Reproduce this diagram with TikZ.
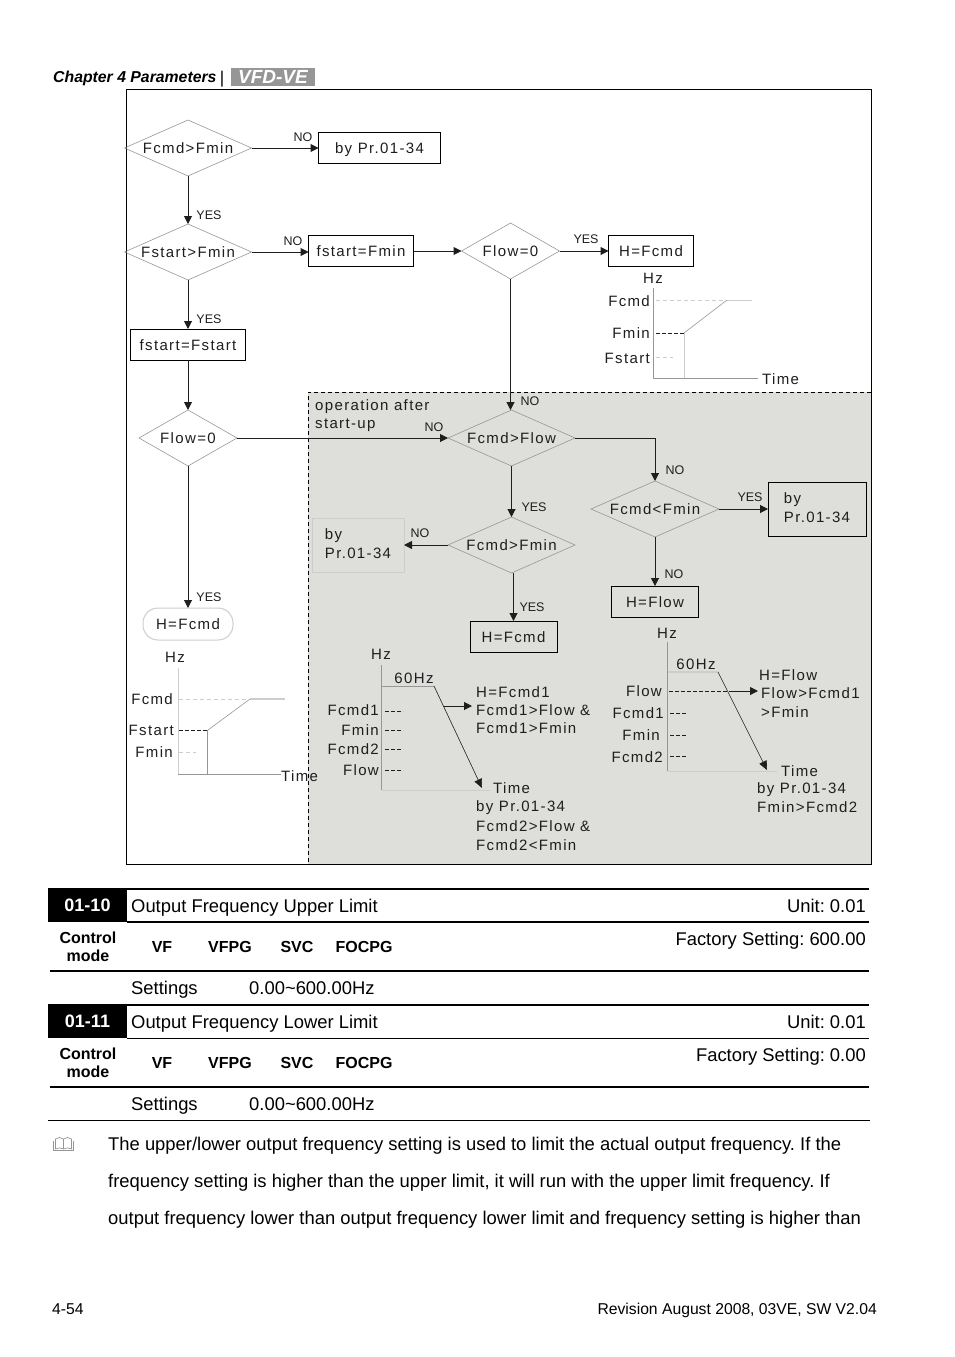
\documentclass[tikz,border=0pt]{standalone}
\usepackage{fontspec}
\usepackage{xcolor}
\setmainfont{Liberation Sans}
\newfontfamily\chartfont[LetterSpace=9]{Liberation Sans}
\usetikzlibrary{shapes.geometric, arrows.meta, positioning}
\definecolor{chartshade}{RGB}{222,223,219}
\definecolor{chartline}{RGB}{150,150,150}
\definecolor{chartpale}{RGB}{205,205,205}
\definecolor{chartink}{RGB}{30,30,30}
\definecolor{logogray}{RGB}{150,150,150}
\tikzset{
  decision/.style={
    diamond, draw=chartline, line width=0.6pt, inner sep=0pt, outer sep=0pt, aspect=2.27,
    minimum width=127pt, minimum height=56pt, text=chartink, text height=11pt, text depth=0pt,
    font=\chartfont\fontsize{15}{18}\selectfont
  },
  process/.style={
    rectangle, draw=black, line width=1pt, inner sep=0pt, outer sep=0pt, minimum height=31pt,
    text=chartink, align=left, text height=11pt, text depth=0pt,
    font=\chartfont\fontsize{15}{18.5}\selectfont
  },
  paleproc/.style={process, draw=chartpale},
  twoline/.style={text height=26pt, minimum height=54pt},
  arrow/.style={-{Stealth[length=8pt, width=8pt, inset=0pt]}, line width=1pt, color=chartink},
  tag/.style={font=\fontsize{12.5}{15}\selectfont, text=chartink, inner sep=0pt, anchor=mid, yshift=-1pt},
  lab/.style={font=\chartfont\fontsize{15}{18}\selectfont, text=chartink, inner sep=0pt, align=left},
  labm/.style={lab, yshift=-3pt},
  axisline/.style={line width=0.8pt, color=chartline},
  paledash/.style={line width=0.8pt, color=chartpale, dash pattern=on 4pt off 3pt},
  inkdash/.style={line width=0.8pt, color=chartink, dash pattern=on 4pt off 2pt},
  frameline/.style={line width=1pt, color=black},
  hairdash/.style={line width=0.9pt, color=black, dash pattern=on 4pt off 3pt},
  rulethick/.style={line width=1.8pt, color=black},
  rulethin/.style={line width=1pt, color=black},
  body/.style={font=\fontsize{18.4}{22}\selectfont, inner sep=0pt, text=black, yshift=-3.8pt},
  codebox/.style={
    rectangle, fill=black, text=white, minimum width=79pt, minimum height=33pt,
    inner sep=0pt, font=\bfseries\fontsize{18}{20}\selectfont
  },
  modetag/.style={font=\bfseries\fontsize{16}{18}\selectfont, inner sep=0pt, align=center, anchor=mid, yshift=-2.8pt}
}
\begin{document}
\frenchspacing
\begin{tikzpicture}[x=1pt, y=-1pt]
  \useasboundingbox (0,0) rectangle (954,1357);

  % page header
  \node[font=\bfseries\itshape\fontsize{15.8}{18}\selectfont, inner sep=0pt, anchor=mid west, yshift=-2pt] (chaptitle) at (53,78) {Chapter 4 Parameters};
  \node[font=\fontsize{17}{18}\selectfont, inner sep=0pt, anchor=mid, yshift=-3pt] (chapbar) at (222,78) {|};
  \node[rectangle, fill=logogray, text=white, minimum width=84pt, minimum height=18pt, inner sep=0pt,
    font=\bfseries\itshape\fontsize{19}{18}\selectfont] (chaplogo) at (273,77) {VFD-VE};

  % frame and shaded part
  \fill[chartshade] (308,392) rectangle (871,864);
  \draw[frameline] (126,89) rectangle (871,864);
  \coordinate (shadetl) at (308,392);
  \draw[hairdash] (871,392) -- (shadetl) -- (308,864);

  % flow nodes
  \node[decision] (fcmdmin) at (188,148) {Fcmd>Fmin};
  \node[process, minimum width=122pt, right=67pt of fcmdmin] (bypra) {by Pr.01-34};
  \node[decision, below=48pt of fcmdmin] (fstartmin) {Fstart>Fmin};
  \node[process, minimum width=105pt, right=57pt of fstartmin, yshift=1pt] (fstartfmin) {fstart=Fmin};
  \node[decision, minimum width=98pt, right=48pt of fstartfmin] (flowa) {Flow=0};
  \node[process, minimum width=85pt, right=49pt of flowa] (hcmda) {H=Fcmd};
  \node[process, minimum width=115pt, below=49pt of fstartmin] (fstartset) {fstart=Fstart};
  \node[decision, minimum width=98pt, below=50pt of fstartset] (flowb) {Flow=0};
  \node[paleproc, rounded corners=15pt, minimum width=90pt, minimum height=32pt, below=142pt of flowb] (hcmdb) {H=Fcmd};
  \node[decision, below=131pt of flowa, xshift=1pt] (fcmdflow) {Fcmd>Flow};
  \node[decision, below=51pt of fcmdflow] (fcmdminb) {Fcmd>Fmin};
  \node[paleproc, twoline, minimum width=92pt, left=44pt of fcmdminb] (byprb) {by\\Pr.01-34};
  \node[process, minimum width=87pt, below=48pt of fcmdminb, xshift=2pt] (hcmdc) {H=Fcmd};
  \node[decision, minimum width=128pt] (fcmdless) at (655,509) {Fcmd<Fmin};
  \node[process, twoline, minimum width=98pt, right=49pt of fcmdless] (byprc) {by\\Pr.01-34};
  \node[process, minimum width=87pt, below=49pt of fcmdless] (hflow) {H=Flow};

  \node[lab, anchor=west] (oplabel) at (315,416) {operation after\\start-up};

  % flow connectors
  \draw[arrow] (fcmdmin) -- (bypra);
  \draw[arrow] (fcmdmin) -- (fstartmin);
  \draw[arrow] (fstartmin.east) -- (fstartmin.east -| fstartfmin.west);
  \draw[arrow] (fstartfmin) -- (flowa);
  \draw[arrow] (flowa) -- (hcmda);
  \draw[arrow] (fstartmin) -- (fstartset);
  \draw[arrow] (fstartset) -- (flowb);
  \draw[arrow] (flowb) -- (fcmdflow);
  \draw[arrow] (flowb) -- (hcmdb);
  \draw[arrow] (flowa.south) -- (flowa.south |- fcmdflow.north);
  \draw[arrow] (fcmdflow) -- (fcmdminb);
  \draw[arrow] (fcmdminb) -- (byprb);
  \draw[arrow] (fcmdminb.south -| hcmdc.north) -- (hcmdc.north);
  \draw[arrow] (fcmdflow.east) -| (fcmdless.north);
  \draw[arrow] (fcmdless) -- (byprc);
  \draw[arrow] (fcmdless) -- (hflow);

  \node[tag] (noa) at (303,138) {NO};
  \node[tag] (yesa) at (209,216) {YES};
  \node[tag] (nob) at (293,242) {NO};
  \node[tag] (yesb) at (586,240) {YES};
  \node[tag] (yesc) at (209,320) {YES};
  \node[tag] (noc) at (530,402) {NO};
  \node[tag] (nod) at (434,428) {NO};
  \node[tag] (noe) at (675,471) {NO};
  \node[tag] (yesd) at (750,498) {YES};
  \node[tag] (yese) at (534,508) {YES};
  \node[tag] (nof) at (420,534) {NO};
  \node[tag] (nog) at (674,575) {NO};
  \node[tag] (yesf) at (209,598) {YES};
  \node[tag] (yesg) at (532,608) {YES};

  % upper right curve
  \node[labm, anchor=mid] (hza) at (653,278) {Hz};
  \node[labm, anchor=mid east] (fcmdla) at (650,301) {Fcmd};
  \node[labm, anchor=mid east] (fminla) at (650,333) {Fmin};
  \node[labm, anchor=mid east] (fstartla) at (650,358) {Fstart};
  \node[labm, anchor=mid west] (timea) at (762,379) {Time};
  \draw[axisline] (653,288) -- (653,378) -- (758,378);
  \draw[paledash] (656,300) -- (727,300);
  \draw[line width=0.8pt, chartpale] (727,300) -- (752,300);
  \draw[inkdash] (656,333) -- (684,333);
  \draw[line width=0.6pt, chartline] (684,333) -- (727,300);
  \draw[line width=0.8pt, chartpale] (684,333) -- (684,378);
  \draw[paledash] (656,357) -- (673,357);

  % left curve
  \node[labm, anchor=mid] (hzb) at (175,657) {Hz};
  \node[labm, anchor=mid east] (fcmdlb) at (173,699) {Fcmd};
  \node[labm, anchor=mid east] (fstartlb) at (174,730) {Fstart};
  \node[labm, anchor=mid east] (fminlb) at (173,752) {Fmin};
  \node[labm, anchor=mid west] (timeb) at (281,776) {Time};
  \draw[line width=0.8pt, chartpale] (178,668) -- (178,774);
  \draw[axisline] (178,774) -- (281,774);
  \draw[paledash] (179,699) -- (250,699);
  \draw[line width=1.4pt, chartpale] (250,699) -- (285,699);
  \draw[inkdash] (179,730) -- (208,730);
  \draw[line width=0.6pt, chartline] (208,730) -- (250,699);
  \draw[axisline] (207,730) -- (207,774);
  \draw[paledash] (179,752) -- (196,752);

  % middle curve
  \node[labm, anchor=mid] (hzc) at (381,654) {Hz};
  \node[labm, anchor=mid] (sixtyc) at (414,678) {60Hz};
  \node[labm, anchor=mid east] (fcmdac) at (379,710) {Fcmd1};
  \node[labm, anchor=mid east] (fminc) at (379,730) {Fmin};
  \node[labm, anchor=mid east] (fcmdbc) at (379,749) {Fcmd2};
  \node[labm, anchor=mid east] (flowc) at (379,770) {Flow};
  \node[lab, anchor=west, text depth=0pt] (hnotec) at (476,710) {H=Fcmd1\\Fcmd1>Flow \&\\Fcmd1>Fmin};
  \node[labm, anchor=mid west] (timec) at (493,788) {Time};
  \node[lab, anchor=west, font=\chartfont\fontsize{15}{19.5}\selectfont] (bynotec) at (476,826) {by Pr.01-34\\Fcmd2>Flow \&\\Fcmd2<Fmin};
  \draw[axisline] (381.5,665) -- (381.5,790);
  \draw[line width=0.8pt, chartpale] (381.5,790) -- (490,790);
  \draw[axisline] (381.5,686) -- (434,686);
  \coordinate (peakc) at (434,686);
  \coordinate (tipc) at (482,788);
  \coordinate (stepc) at (444,706);
  \coordinate (stepcend) at (472,706);
  \draw[-{Stealth[length=9pt, width=8pt, inset=0pt]}, line width=0.6pt, chartink] (peakc) -- (tipc);
  \draw[arrow] (stepc) -- (stepcend);
  \draw[inkdash] (385,711) -- (403,711);
  \draw[inkdash] (385,730) -- (403,730);
  \draw[inkdash] (385,749) -- (403,749);
  \draw[inkdash] (385,770) -- (403,770);

  % right curve
  \node[labm, anchor=mid] (hzd) at (667,633) {Hz};
  \node[labm, anchor=mid] (sixtyd) at (696,664) {60Hz};
  \node[labm, anchor=mid east] (flowd) at (662,691) {Flow};
  \node[labm, anchor=mid east] (fcmdad) at (664,713) {Fcmd1};
  \node[labm, anchor=mid east] (fmind) at (660,735) {Fmin};
  \node[labm, anchor=mid east] (fcmdbd) at (663,757) {Fcmd2};
  \node[labm, anchor=mid west] (hnoted) at (759,675) {H=Flow};
  \node[labm, anchor=mid west] (fnoted) at (761,693) {Flow>Fcmd1};
  \node[labm, anchor=mid west] (gnoted) at (761,712) {>Fmin};
  \node[labm, anchor=mid west] (timed) at (781,771) {Time};
  \node[labm, anchor=mid west] (bynoted) at (757,788) {by Pr.01-34};
  \node[labm, anchor=mid west] (fminnoted) at (757,807) {Fmin>Fcmd2};
  \draw[axisline] (667.5,642) -- (667.5,771);
  \draw[line width=0.8pt, chartpale] (667.5,771) -- (777,771);
  \draw[line width=1.4pt, chartpale] (667.5,672) -- (718,672);
  \coordinate (peakd) at (718,672);
  \coordinate (tipd) at (767,770);
  \coordinate (stepd) at (729,691);
  \coordinate (stepdend) at (758,691);
  \coordinate (dashd) at (669,691);
  \draw[-{Stealth[length=9pt, width=8pt, inset=0pt]}, line width=0.6pt, chartink] (peakd) -- (tipd);
  \draw[inkdash] (dashd) -- (stepd);
  \draw[arrow] (stepd) -- (stepdend);
  \draw[inkdash] (670,713) -- (686,713);
  \draw[inkdash] (670,735) -- (686,735);
  \draw[inkdash] (670,756) -- (686,756);

  % first parameter
  \node[codebox] (codea) at (87.5,905.5) {01-10};
  \draw[rulethick] (48,889) -- (869,889);
  \draw[rulethick] (127,922) -- (869,922);
  \draw[rulethick] (50,971) -- (869,971);
  \node[body, anchor=mid west] (titlea) at (131,906) {Output Frequency Upper Limit};
  \node[body, anchor=mid east] (unita) at (866,906) {Unit: 0.01};
  \node[body, anchor=mid east] (factorya) at (866,939) {Factory Setting: 600.00};
  \node[modetag, anchor=center, yshift=2.8pt] (modea) at (88,946.5) {Control\\mode};
  \node[modetag] (vfa) at (162,947) {VF};
  \node[modetag] (vfpga) at (230,947) {VFPG};
  \node[modetag] (svca) at (297,947) {SVC};
  \node[modetag] (focpga) at (364,947) {FOCPG};
  \node[body, anchor=mid west] (seta) at (131,988) {Settings};
  \node[body, anchor=mid west] (rangea) at (249,988) {0.00\textasciitilde600.00Hz};

  % second parameter
  \node[codebox] (codeb) at (87.5,1021.5) {01-11};
  \draw[rulethick] (48,1005) -- (869,1005);
  \draw[rulethin] (127,1038) -- (869,1038);
  \draw[rulethick] (50,1087) -- (869,1087);
  \draw[rulethin] (48,1120) -- (870,1120);
  \node[body, anchor=mid west] (titleb) at (131,1022) {Output Frequency Lower Limit};
  \node[body, anchor=mid east] (unitb) at (866,1022) {Unit: 0.01};
  \node[body, anchor=mid east] (factoryb) at (866,1055) {Factory Setting: 0.00};
  \node[modetag, anchor=center, yshift=2.8pt] (modeb) at (88,1062.5) {Control\\mode};
  \node[modetag] (vfb) at (162,1063) {VF};
  \node[modetag] (vfpgb) at (230,1063) {VFPG};
  \node[modetag] (svcb) at (297,1063) {SVC};
  \node[modetag] (focpgb) at (364,1063) {FOCPG};
  \node[body, anchor=mid west] (setb) at (131,1104) {Settings};
  \node[body, anchor=mid west] (rangeb) at (249,1104) {0.00\textasciitilde600.00Hz};

  % note with book mark
  \draw[line width=0.7pt, chartline] (55.5,1139) .. controls (58,1137) and (61,1137) .. (63.5,1139)
    .. controls (66,1137) and (69,1137) .. (71.5,1139) -- (71.5,1149)
    .. controls (69,1147.5) and (66,1147.5) .. (63.5,1149)
    .. controls (61,1147.5) and (58,1147.5) .. (55.5,1149) -- cycle;
  \draw[line width=0.7pt, chartline] (63.5,1139) -- (63.5,1149);
  \draw[line width=0.7pt, chartline] (53.5,1141) -- (53.5,1150.5) -- (73.5,1150.5) -- (73.5,1141);
  \node[body, anchor=mid west] (notea) at (108,1144) {The upper/lower output frequency setting is used to limit the actual output frequency. If the};
  \node[body, anchor=mid west] (noteb) at (108,1181) {frequency setting is higher than the upper limit, it will run with the upper limit frequency. If};
  \node[body, anchor=mid west] (notec) at (108,1218) {output frequency lower than output frequency lower limit and frequency setting is higher than};

  % page footer
  \node[font=\fontsize{15.7}{18}\selectfont, inner sep=0pt, anchor=mid west, yshift=-3pt] (pagenum) at (52,1309) {4-54};
  \node[font=\fontsize{15.7}{18}\selectfont, inner sep=0pt, anchor=mid east, yshift=-3pt] (revision) at (877,1309) {Revision August 2008, 03VE, SW V2.04};
\end{tikzpicture}
\end{document}
